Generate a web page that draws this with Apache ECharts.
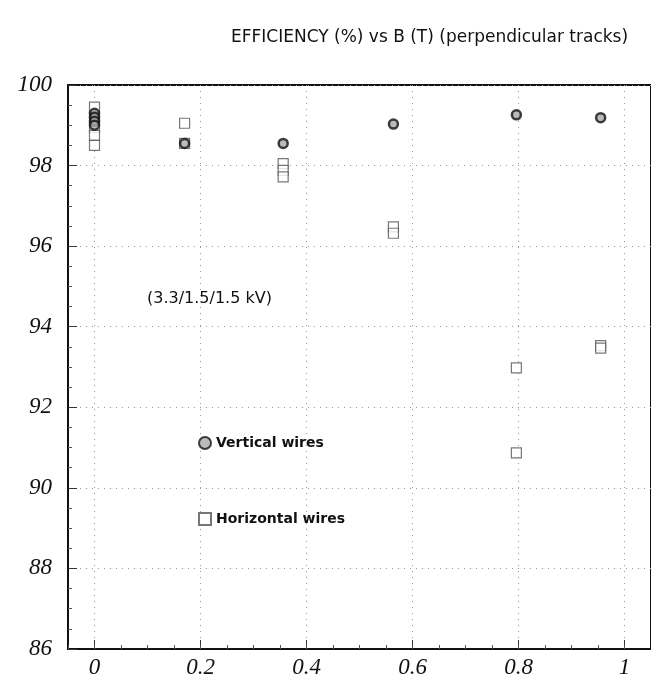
<!DOCTYPE html>
<html>
<head>
<meta charset="utf-8">
<script src="https://cdn.jsdelivr.net/npm/echarts@6/dist/echarts.min.js"></script>
<style>html,body{margin:0;padding:0;background:#fff;}#c{width:651px;height:679px;}</style>
</head>
<body>
<div id="c"></div>
<script>
// Data
const xTicks = [0, 0.2, 0.4, 0.6, 0.8, 1];
const verticalX = [0, 0, 0, 0, 0.17, 0.356, 0.564, 0.796, 0.955];
const verticalY = [99.3, 99.2, 99.1, 99.0, 98.55, 98.55, 99.03, 99.26, 99.19];
const horizontalX = [0, 0, 0, 0, 0, 0.17, 0.17, 0.356, 0.356, 0.356, 0.564, 0.564, 0.796, 0.796, 0.955, 0.955];
const horizontalY = [99.45, 99.2, 98.95, 98.75, 98.5, 99.05, 98.55, 98.05, 97.88, 97.72, 96.48, 96.32, 92.98, 90.87, 93.53, 93.47];

const pairs = (xs, ys) => xs.map((x, i) => [x, ys[i]]);
const labelFont = {fontFamily: 'Liberation Serif', fontStyle: 'italic', fontSize: 23, color: '#111'};
const dotted = {show: true, lineStyle: {color: '#999', type: [1, 5], width: 1}};

const chart = echarts.init(document.getElementById('c'));
chart.setOption({
  animation: false,
  backgroundColor: '#fff',
  title: {
    text: 'EFFICIENCY (%) vs B (T) (perpendicular tracks)',
    left: 226, top: 24,
    textStyle: {fontFamily: 'DejaVu Sans', fontWeight: 'normal', fontSize: 17, color: '#111'}
  },
  grid: {left: 68, top: 85, width: 587.4, height: 564, show: true, borderColor: '#111', borderWidth: 2, backgroundColor: 'transparent'},
  xAxis: [{
    type: 'value', min: -0.05, max: 1.05, interval: 0.05,
    axisLine: {show: true, onZero: false, lineStyle: {color: '#111', width: 2}},
    axisTick: {show: true, inside: true, length: 9, customValues: xTicks, lineStyle: {color: '#333'}},
    axisLabel: Object.assign({customValues: xTicks, margin: 7, formatter: v => String(Math.round(v * 10) / 10)}, labelFont),
    splitLine: dotted
  }, {
    type: 'value', min: -0.05, max: 1.05, interval: 0.05, position: 'bottom',
    axisLine: {show: false, onZero: false},
    axisTick: {show: true, inside: true, length: 4, lineStyle: {color: '#555'}},
    axisLabel: {show: false}, splitLine: {show: false}
  }],
  yAxis: {
    type: 'value', min: 86, max: 100, interval: 2,
    axisLine: {show: true, onZero: false, lineStyle: {color: '#111', width: 2}},
    axisTick: {show: true, inside: true, length: 9, lineStyle: {color: '#333'}},
    minorTick: {show: true, splitNumber: 4, length: 4, lineStyle: {color: '#555'}},
    axisLabel: Object.assign({margin: 16}, labelFont),
    splitLine: dotted
  },
  legend: {
    orient: 'vertical', left: 193, top: 431, itemGap: 62, itemWidth: 12, itemHeight: 12, itemTextGap: 5,
    data: [
      {name: 'Vertical wires', icon: 'circle'},
      {name: 'Horizontal wires', icon: 'rect'}
    ],
    textStyle: {fontFamily: 'DejaVu Sans', fontSize: 14, fontWeight: 'bold', color: '#111'}
  },
  graphic: [{
    type: 'text', left: 147, top: 291,
    style: {text: '(3.3/1.5/1.5 kV)', font: '16px "DejaVu Sans"', fill: '#111'}
  }],
  series: [{
    name: 'Horizontal wires', type: 'scatter', symbol: 'rect', symbolSize: 10,
    data: pairs(horizontalX, horizontalY),
    itemStyle: {color: '#fff', borderColor: '#555', borderWidth: 1.2}
  }, {
    name: 'Vertical wires', type: 'scatter', symbol: 'circle', symbolSize: 9,
    data: pairs(verticalX, verticalY),
    itemStyle: {color: '#aaa', borderColor: '#111', borderWidth: 2.5}
  }]
});
</script>
</body>
</html>
